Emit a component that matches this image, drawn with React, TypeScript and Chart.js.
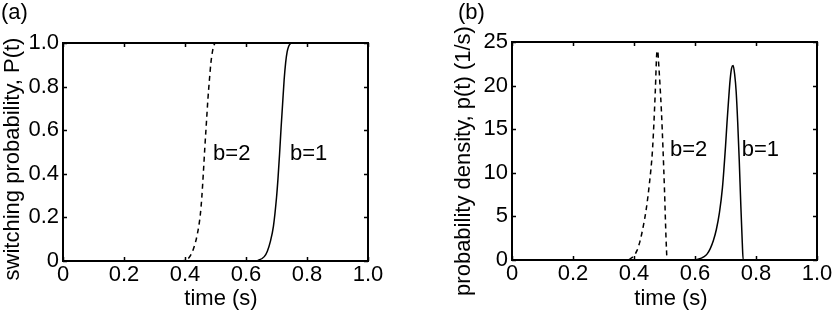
import React, { useEffect, useRef } from "react";
import { Chart, registerables } from "chart.js";

Chart.register(...registerables);

const FONT = "'Liberation Sans', Arial, Helvetica, sans-serif";

// ---- tick values ----
const timeTicks = [0, 0.2, 0.4, 0.6, 0.8, 1.0];
const probTicks = [0, 0.2, 0.4, 0.6, 0.8, 1.0];
const densityTicks = [0, 5, 10, 15, 20, 25];

// ---- (a) switching probability P(t) ----
const cdfTimeB2 = [0, 0.38, 0.4, 0.41, 0.42, 0.43, 0.44, 0.45, 0.455, 0.46, 0.465, 0.47, 0.475, 0.48, 0.485, 0.49, 0.495, 0.5];
const cdfValB2 = [0, 0, 0.002, 0.01, 0.03, 0.065, 0.12, 0.21, 0.29, 0.4, 0.52, 0.63, 0.74, 0.83, 0.91, 0.96, 0.99, 1.0];

const cdfTimeB1 = [0, 0.62, 0.64, 0.66, 0.67, 0.68, 0.69, 0.7, 0.705, 0.71, 0.715, 0.72, 0.725, 0.73, 0.735, 0.74, 0.745, 0.75, 1.0];
const cdfValB1 = [0, 0, 0.003, 0.02, 0.045, 0.09, 0.16, 0.29, 0.38, 0.49, 0.61, 0.72, 0.83, 0.91, 0.96, 0.985, 0.997, 1.0, 1.0];

// ---- (b) probability density p(t) ----
const pdfTimeB2 = [0, 0.38, 0.39, 0.4, 0.41, 0.42, 0.43, 0.44, 0.45, 0.46, 0.465, 0.47, 0.475, 0.478, 0.48, 0.485, 0.49, 0.495, 0.5, 0.505, 0.508];
const pdfValB2 = [0, 0, 0.2, 0.5, 1.1, 2.2, 3.8, 5.8, 8.6, 12.3, 15.5, 19.5, 23.8, 24.0, 23.0, 20.2, 17.0, 12.8, 8.0, 2.5, 0];

const pdfTimeB1 = [0, 0.59, 0.61, 0.63, 0.64, 0.65, 0.66, 0.67, 0.68, 0.69, 0.7, 0.705, 0.71, 0.715, 0.72, 0.725, 0.73, 0.735, 0.74, 0.745, 0.75, 0.755, 0.758, 1.0];
const pdfValB1 = [0, 0, 0.1, 0.4, 0.7, 1.3, 2.2, 3.5, 5.4, 8.3, 13.0, 15.8, 18.3, 20.6, 22.0, 22.3, 21.3, 19.3, 15.8, 11.5, 6.5, 2.0, 0, 0];

const zip = (xs: number[], ys: number[]) => xs.map((x, i) => ({ x, y: ys[i] }));

const fmtDec = (v: number) => (v === 0 ? "0" : v.toFixed(1));

type Label = { text: string; x: number; y: number };

type PanelProps = {
  left: number;
  panelTag: string;
  tagX: number;
  yTitle: string;
  yTitleX: number;
  yTitleY: number;
  xTitleX: number;
  yMax: number;
  yTicks: number[];
  yFmt: (v: number) => string;
  area: { left: number; right: number; top: number; bottom: number };
  dashedX: number[];
  dashedY: number[];
  solidX: number[];
  solidY: number[];
  labels: Label[];
};

const W = 416;
const H = 314;

function Panel(p: PanelProps) {
  const ref = useRef<HTMLCanvasElement>(null);
  useEffect(() => {
    const canvas = ref.current!;
    const overlay = {
      id: "overlay",
      afterDraw(chart: any) {
        const ctx = chart.ctx as CanvasRenderingContext2D;
        const { left, right, top, bottom } = chart.chartArea;
        const xs = chart.scales.x;
        const ys = chart.scales.y;
        ctx.save();
        ctx.strokeStyle = "#000";
        ctx.lineWidth = 1.5;
        // inward ticks on all four sides
        ctx.beginPath();
        const tl = 4;
        timeTicks.forEach((v) => {
          const px = Math.round(xs.getPixelForValue(v)) + 0.5;
          ctx.moveTo(px, bottom);
          ctx.lineTo(px, bottom - tl);
          ctx.moveTo(px, top);
          ctx.lineTo(px, top + tl);
        });
        p.yTicks.forEach((v) => {
          const py = Math.round(ys.getPixelForValue(v)) + 0.5;
          ctx.moveTo(left, py);
          ctx.lineTo(left + tl, py);
          ctx.moveTo(right, py);
          ctx.lineTo(right - tl, py);
        });
        ctx.stroke();
        // box
        ctx.lineWidth = 2;
        ctx.strokeRect(left, top, right - left, bottom - top);

        ctx.fillStyle = "#000";
        ctx.font = `22px ${FONT}`;
        // panel tag
        ctx.textAlign = "left";
        ctx.textBaseline = "alphabetic";
        ctx.fillText(p.panelTag, p.tagX, 19);
        // curve labels
        p.labels.forEach((l) => {
          ctx.fillText(l.text, xs.getPixelForValue(l.x), ys.getPixelForValue(l.y) + 8);
        });
        // x title
        ctx.textAlign = "center";
        ctx.fillText("time (s)", p.xTitleX, 305);
        // y title
        ctx.translate(p.yTitleX, p.yTitleY);
        ctx.rotate(-Math.PI / 2);
        ctx.textBaseline = "middle";
        ctx.fillText(p.yTitle, 0, 0);
        ctx.restore();
      },
    };

    const chart = new Chart(canvas, {
      type: "line",
      data: {
        datasets: [
          {
            data: zip(p.dashedX, p.dashedY),
            borderColor: "#000",
            borderWidth: 1.5,
            borderDash: [5, 4],
            pointRadius: 0,
            fill: false,
            cubicInterpolationMode: "monotone",
          },
          {
            data: zip(p.solidX, p.solidY),
            borderColor: "#000",
            borderWidth: 1.5,
            pointRadius: 0,
            fill: false,
            cubicInterpolationMode: "monotone",
          },
        ],
      },
      options: {
        animation: false,
        responsive: false,
        devicePixelRatio: 1,
        events: [],
        layout: {
          padding: { left: 0, top: p.area.top, right: W - p.area.right, bottom: 0 },
        },
        plugins: { legend: { display: false }, tooltip: { enabled: false }, title: { display: false } },
        scales: {
          x: {
            type: "linear",
            min: 0,
            max: 1,
            grid: { display: false, drawTicks: false },
            border: { display: false },
            afterBuildTicks: (s: any) => {
              s.ticks = timeTicks.map((v) => ({ value: v }));
            },
            afterFit: (s: any) => {
              s.height = H - p.area.bottom;
              s.paddingLeft = 0;
              s.paddingRight = 0;
            },
            ticks: {
              color: "#000",
              font: { family: FONT, size: 22 },
              padding: 1,
              maxRotation: 0,
              autoSkip: false,
              callback: (v: any) => fmtDec(Number(v)),
            },
          },
          y: {
            type: "linear",
            min: 0,
            max: p.yMax,
            grid: { display: false, drawTicks: false },
            border: { display: false },
            afterBuildTicks: (s: any) => {
              s.ticks = p.yTicks.map((v) => ({ value: v }));
            },
            afterFit: (s: any) => {
              s.width = p.area.left;
              s.paddingTop = 0;
              s.paddingBottom = 0;
            },
            ticks: {
              color: "#000",
              font: { family: FONT, size: 22 },
              padding: 4,
              autoSkip: false,
              callback: (v: any) => p.yFmt(Number(v)),
            },
          },
        },
      },
      plugins: [overlay],
    } as any);
    return () => chart.destroy();
  }, []);
  return (
    <canvas
      ref={ref}
      width={W}
      height={H}
      style={{ position: "absolute", left: p.left, top: 0, width: W, height: H }}
    />
  );
}

export default function App() {
  return (
    <div style={{ position: "absolute", left: 0, top: 0, width: 832, height: 314, background: "#fff" }}>
      <Panel
        left={0}
        panelTag="(a)"
        tagX={1}
        yTitle="switching probability, P(t)"
        yTitleX={13}
        yTitleY={159}
        xTitleX={221}
        yMax={1}
        yTicks={probTicks}
        yFmt={fmtDec}
        area={{ left: 63, right: 368, top: 43, bottom: 261 }}
        dashedX={cdfTimeB2}
        dashedY={cdfValB2}
        solidX={cdfTimeB1}
        solidY={cdfValB1}
        labels={[
          { text: "b=2", x: 0.492, y: 0.5 },
          { text: "b=1", x: 0.744, y: 0.5 },
        ]}
      />
      <Panel
        left={416}
        panelTag="(b)"
        tagX={42}
        yTitle="probability density, p(t) (1/s)"
        yTitleX={48}
        yTitleY={161}
        xTitleX={255}
        yMax={25}
        yTicks={densityTicks}
        yFmt={(v: number) => String(v)}
        area={{ left: 96, right: 401, top: 42, bottom: 260 }}
        dashedX={pdfTimeB2}
        dashedY={pdfValB2}
        solidX={pdfTimeB1}
        solidY={pdfValB1}
        labels={[
          { text: "b=2", x: 0.518, y: 12.8 },
          { text: "b=1", x: 0.753, y: 12.8 },
        ]}
      />
    </div>
  );
}
